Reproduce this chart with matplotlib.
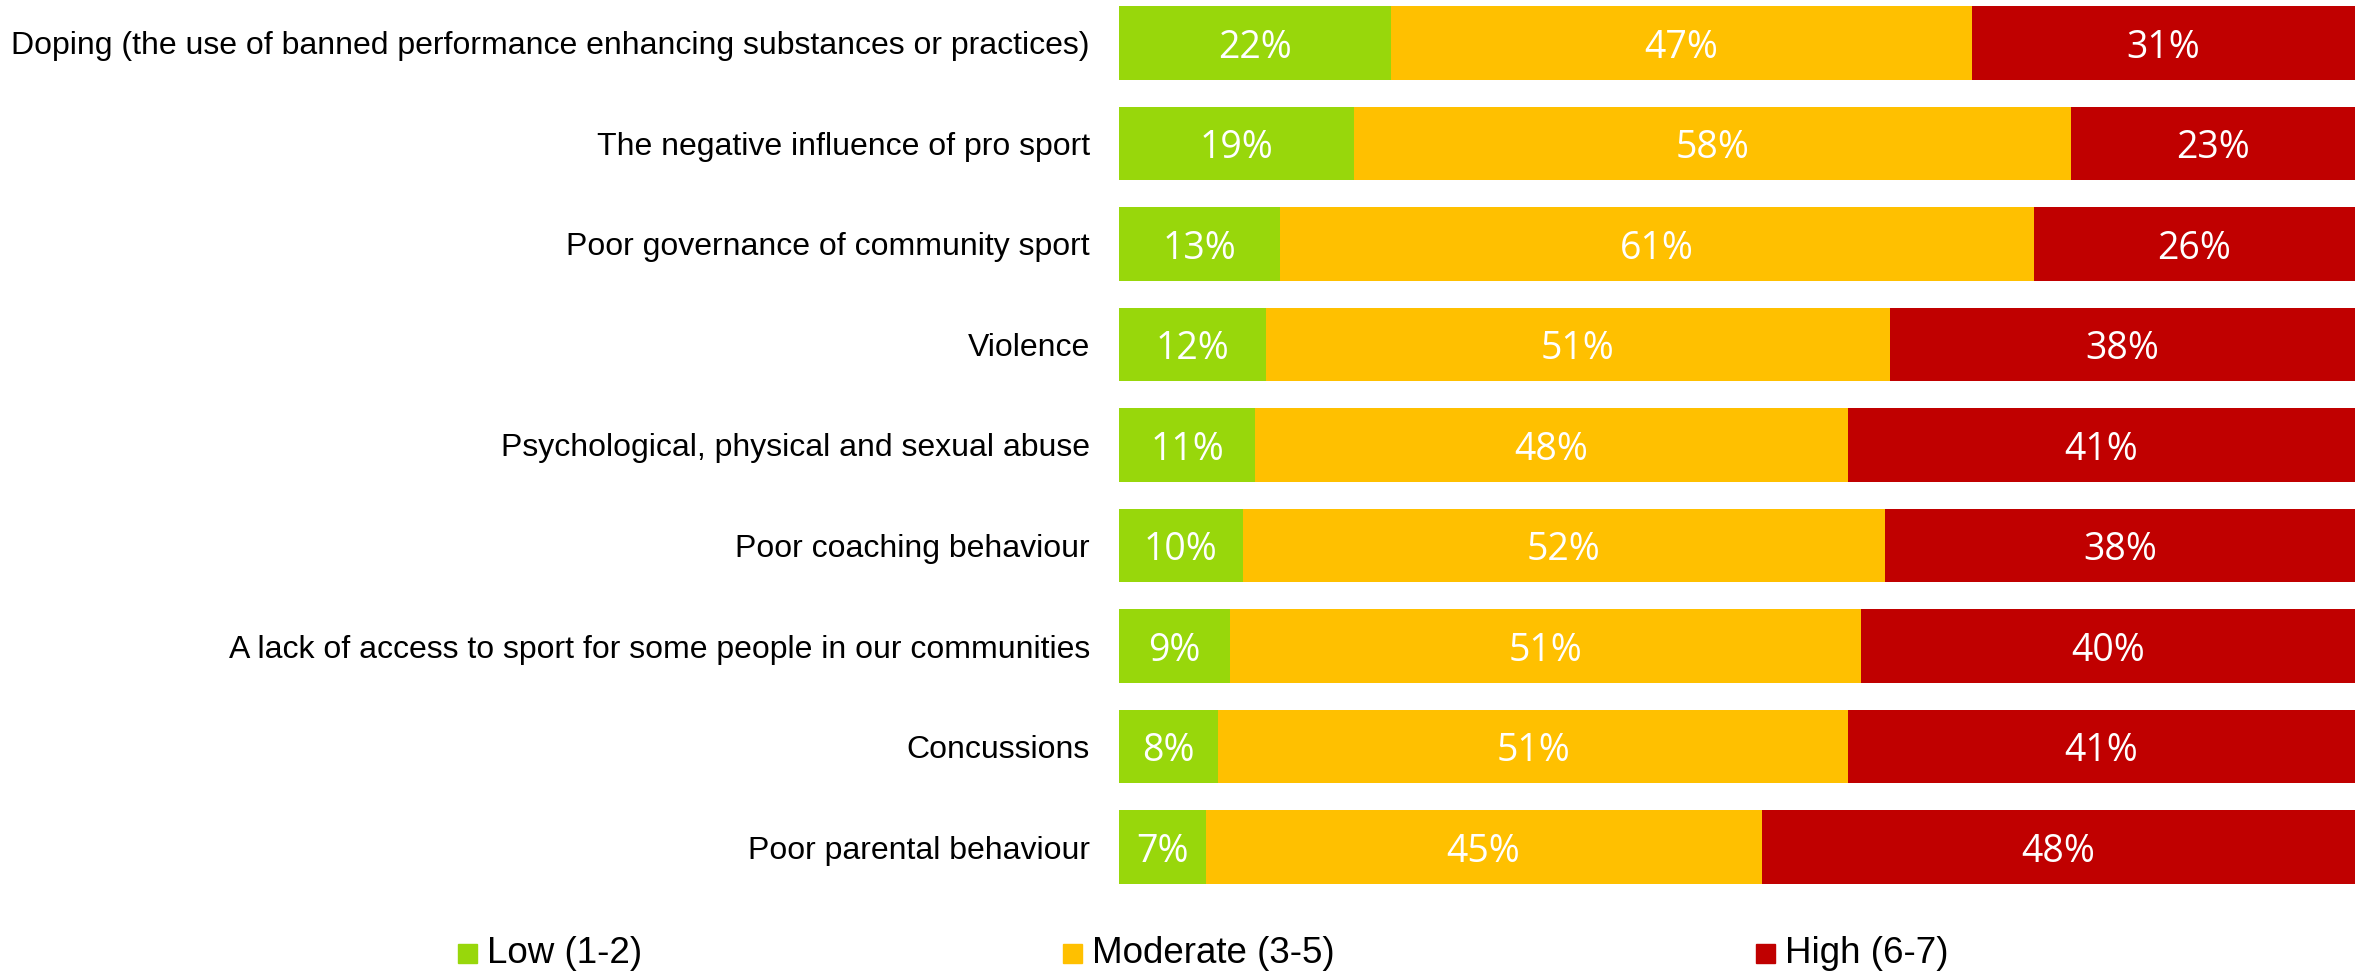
import matplotlib
matplotlib.use("Agg")
import matplotlib.pyplot as plt
from matplotlib.patches import Rectangle
import numpy as np

categories = [
    "Doping (the use of banned performance enhancing substances or practices)",
    "The negative influence of pro sport",
    "Poor governance of community sport",
    "Violence",
    "Psychological, physical and sexual abuse",
    "Poor coaching behaviour",
    "A lack of access to sport for some people in our communities",
    "Concussions",
    "Poor parental behaviour",
]
low = [22, 19, 13, 12, 11, 10, 9, 8, 7]
moderate = [47, 58, 61, 51, 48, 52, 51, 51, 45]
high = [31, 23, 26, 38, 41, 38, 40, 41, 48]
series_names = ["Low (1-2)", "Moderate (3-5)", "High (6-7)"]
colors = ["#98D70B", "#FFC000", "#C00000"]

W, H = 2366, 975
fig = plt.figure(figsize=(W / 100, H / 100), dpi=100)
ax = fig.add_axes([1119 / W, 1 - 884 / H, (2355 - 1119) / W, (884 - 6) / H])

data = np.array([low, moderate, high], dtype=float)
totals = data.sum(axis=0)
shares = data / totals * 100  # each row fills the full bar
y = np.arange(len(categories))
bar_h = 0.735
label_size = 27
# baseline offset so the digits sit centred in each bar (data units)
digit_half = 0.714 * label_size * 100 / 72 / 2 / 100.5
baseline_shift = digit_half + 0.015

left = np.zeros(len(categories))
for vals, share, col in zip(data, shares, colors):
    bars = ax.barh(y, share, left=left, height=bar_h, color=col, edgecolor="none")
    for b, v in zip(bars, vals):
        ax.text(b.get_x() + b.get_width() / 2,
                b.get_y() + b.get_height() / 2 + baseline_shift,
                f"{v:.0f}%", ha="center", va="baseline", color="white",
                fontsize=label_size, family="Open Sans")
    left += share

ax.set_xlim(0, 100)
ax.set_ylim(len(categories) - 1 + bar_h / 2, -bar_h / 2)
ax.set_yticks(y)
ax.set_yticklabels(categories, family="Liberation Sans", fontsize=23)
ax.tick_params(axis="y", length=0, pad=21)
ax.set_xticks([])
for s in ax.spines.values():
    s.set_visible(False)

# legend
leg_x = [458, 1063, 1756]
sq = 19
sq_cy = 953.5
text_base = 963
for x0, name, col in zip(leg_x, series_names, colors):
    fig.patches.append(Rectangle((x0 / W, 1 - (sq_cy + sq / 2) / H), sq / W, sq / H,
                                 transform=fig.transFigure, color=col))
    fig.text((x0 + sq + 10) / W, 1 - text_base / H, name, ha="left", va="baseline",
             family="Liberation Sans", fontsize=26.5)

fig.savefig("out.png", dpi=100)
